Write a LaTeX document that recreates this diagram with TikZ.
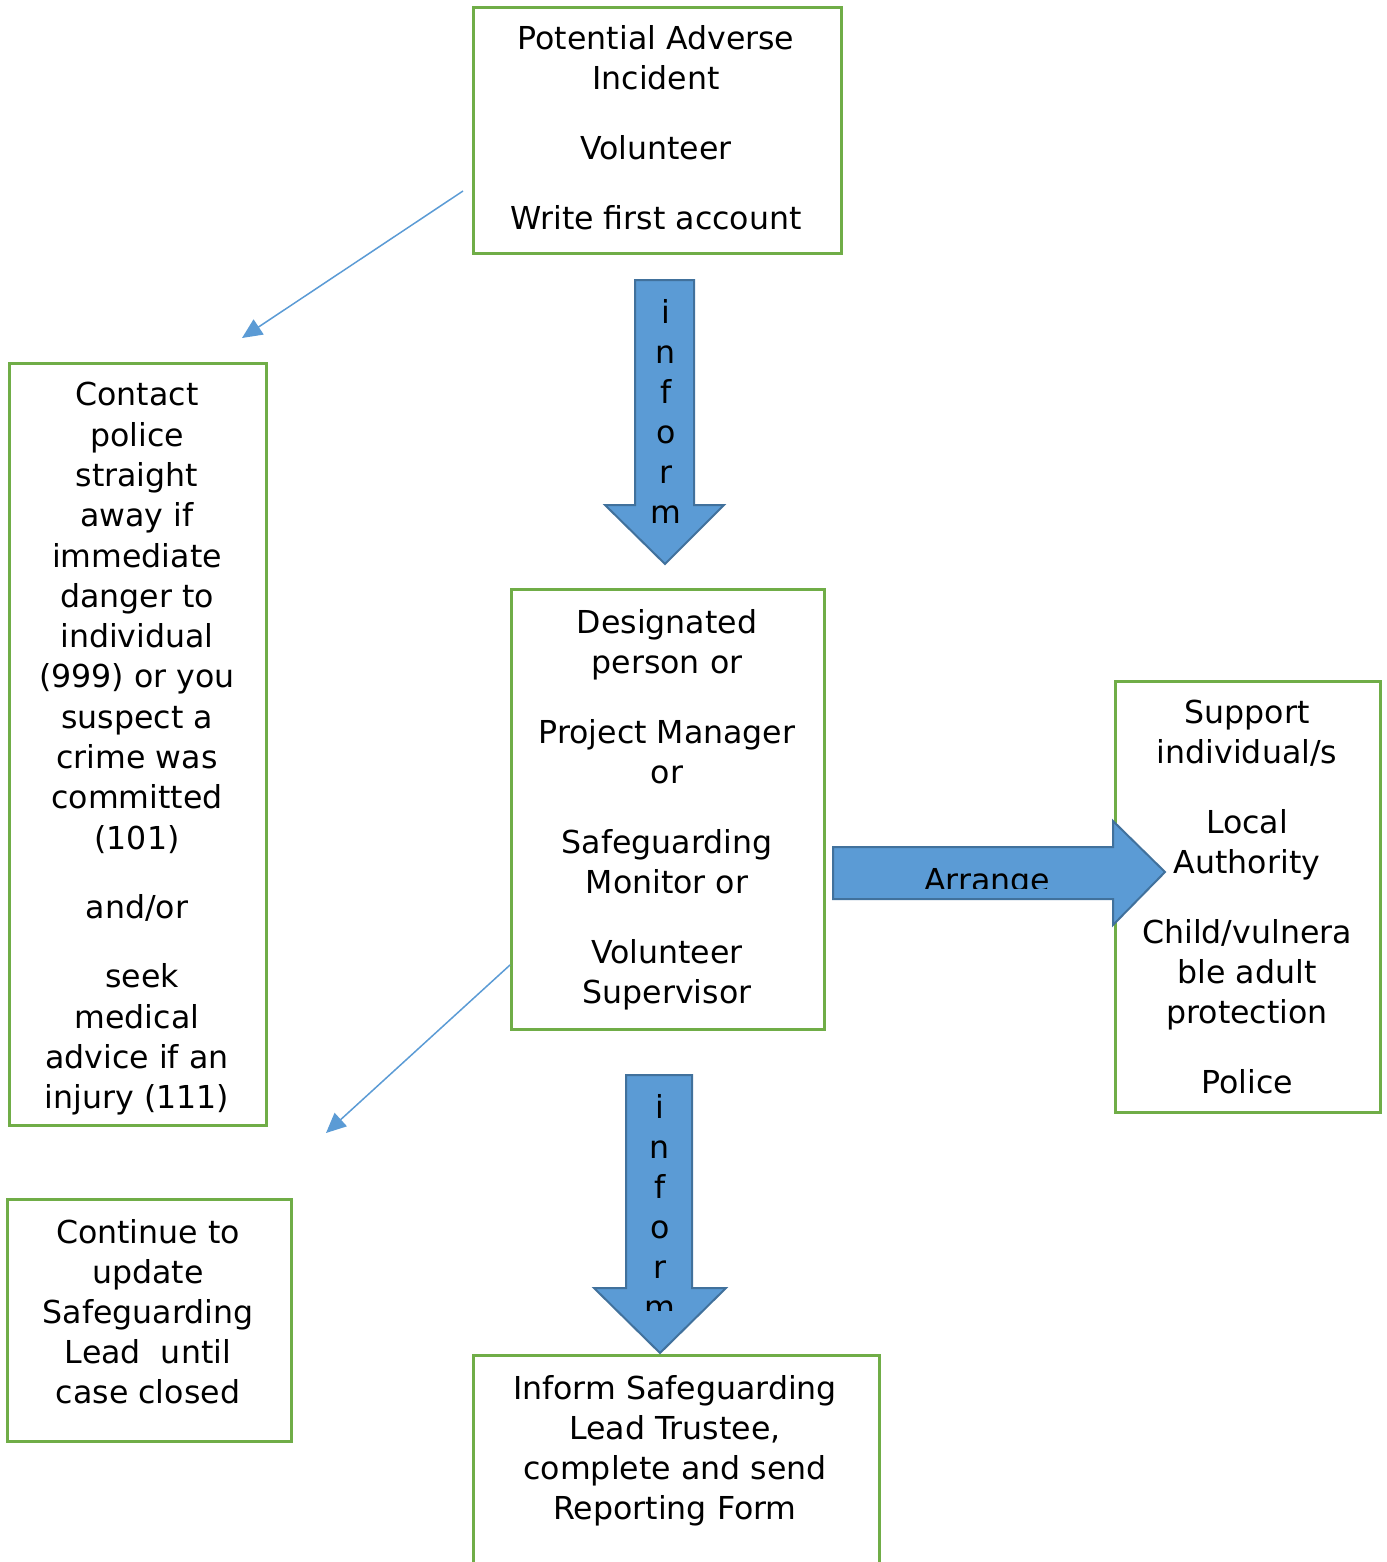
\documentclass[tikz,border=0pt]{standalone}
\usepackage{fontspec}
\setmainfont{DejaVu Sans}
\usetikzlibrary{arrows.meta}
\definecolor{boxgreen}{HTML}{70AD47}
\definecolor{arrowblue}{HTML}{5B9BD5}
\definecolor{arrowedge}{HTML}{41719C}
\begin{document}
\begin{tikzpicture}[x=0.5pt,y=-0.5pt,
  box/.style={draw=boxgreen,line width=1.5pt,inner sep=0pt,anchor=north west},
  txt/.style={align=center,inner sep=0pt,anchor=north,font=\fontsize{15.8}{20}\selectfont},
  blockarrow/.style={fill=arrowblue,draw=arrowedge,line width=1pt,line join=miter},
  thinarrow/.style={draw=arrowblue,line width=0.75pt,-{Triangle[length=10pt,width=9pt]}}]
\useasboundingbox (0,0) rectangle (1386,1562);

% boxes
\node[box,minimum width=184pt,minimum height=123pt] (boxA) at (472,6) {};
\node[box,minimum width=128.5pt,minimum height=381pt] (boxB) at (8,362) {};
\node[box,minimum width=156.5pt,minimum height=220pt] (boxC) at (510,588) {};
\node[box,minimum width=132.5pt,minimum height=215.5pt] (boxD) at (1114,680) {};
\node[box,minimum width=142pt,minimum height=121pt] (boxE) at (6,1198) {};
\node[box,minimum width=203pt,minimum height=110pt] (boxF) at (472,1354) {};

% texts
\node[txt] (tA) at (656,25) {Potential Adverse\\Incident\\[15pt]Volunteer\\[15pt]Write first account};
\node[txt,font=\fontsize{15.8}{20.15}\selectfont] (tB) at (137,382) {Contact\\police\\straight\\away if\\immediate\\danger to\\individual\\(999) or you\\suspect a\\crime was\\committed\\(101)\\[14.5pt]and/or\\[14.5pt]\ seek\\medical\\advice if an\\injury (111)};
\node[txt] (tC) at (667,609) {Designated\\person or\\[15pt]Project Manager\\or\\[15pt]Safeguarding\\Monitor or\\[15pt]Volunteer\\Supervisor};
\node[txt] (tD) at (1247,700) {Support\\individual/s\\[15pt]Local\\Authority\\[15pt]Child/vulnera\\ble adult\\protection\\[15pt]Police};
\node[txt] (tE) at (148,1219) {Continue to\\update\\Safeguarding\\Lead\ \ until\\case closed};
\node[txt] (tF) at (675,1375) {Inform Safeguarding\\Lead Trustee,\\complete and send\\Reporting Form};

% block arrows
\draw[blockarrow] (635,280) -- (694,280) -- (694,505) -- (724,505) -- (665,564) -- (605,505) -- (635,505) -- cycle;
\node[txt] (inf1) at (666,299) {i\\n\\f\\o\\r\\m};

\draw[blockarrow] (626,1075) -- (692,1075) -- (692,1288) -- (726,1288) -- (660,1353) -- (594,1288) -- (626,1288) -- cycle;
\begin{scope}
  \clip (560,1060) rectangle (760,1310);
  \node[txt] (inf2) at (660,1094) {i\\n\\f\\o\\r\\m};
\end{scope}

\draw[blockarrow] (833,847) -- (1113,847) -- (1113,821) -- (1165,872) -- (1113,925) -- (1113,899) -- (833,899) -- cycle;
\begin{scope}
  \clip (833,840) rectangle (1113,888);
  \node[inner sep=0pt,anchor=base,font=\fontsize{15.8}{20}\selectfont] (arr) at (987,891) {Arrange};
\end{scope}

% thin arrows
\coordinate (s1) at (463,191);
\coordinate (e1) at (242,338);
\draw[thinarrow] (s1) -- (e1);
\coordinate (s2) at (510,965);
\coordinate (e2) at (326,1133);
\draw[thinarrow] (s2) -- (e2);
\end{tikzpicture}
\end{document}
